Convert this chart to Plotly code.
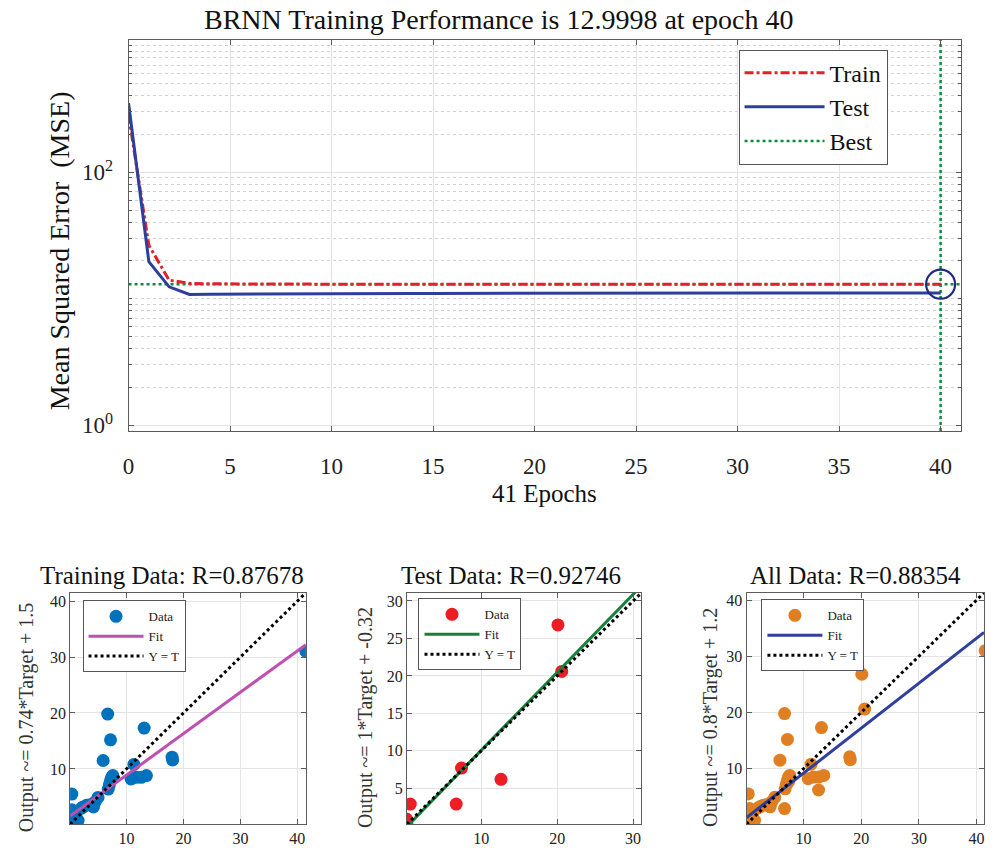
import plotly.graph_objects as go

FONT = "Liberation Serif"
W, H = 995, 860

# ---- performance curve (MSE per epoch) ----
epochs = list(range(41))
train_perf = [284, 26.4, 14.0, 13.2, 13.1, 13.06, 13.04, 13.03, 13.02, 13.02,
              13.01, 13.01, 13.01, 13.01, 13.0, 13.0, 13.0, 13.0, 13.0, 13.0,
              13.0, 13.0, 13.0, 13.0, 13.0, 13.0, 13.0, 13.0, 13.0, 13.0,
              13.0, 13.0, 13.0, 13.0, 13.0, 13.0, 13.0, 13.0, 13.0, 13.0, 12.9998]
test_perf = [350, 19.6, 12.4, 10.8, 10.85, 10.88, 10.9, 10.92, 10.93, 10.95,
             10.96, 10.97, 10.98, 10.99, 11.0, 11.0, 11.01, 11.02, 11.02, 11.03,
             11.03, 11.04, 11.04, 11.05, 11.05, 11.06, 11.06, 11.07, 11.07, 11.07,
             11.08, 11.08, 11.08, 11.09, 11.09, 11.09, 11.1, 11.1, 11.1, 11.1, 11.1]
best_epoch = 40
best_perf = 12.9998

# ---- regression data (target, output) ----
train_target = [41.5, 6.7, 7.2, 5.9, 13.1, 18.0, 18.1, 11.3, 7.6, 7.4, 7.2, 6.8, 7.0,
                10.8, 11.7, 12.6, 13.5, 0.4, 5.0, 4.5, 4.2, 3.6, 3.0, 2.1, 1.3,
                0.4, 0.6, 0.2, 1.5, 0.9, 2.4]
train_output = [31.0, 19.8, 15.2, 11.5, 17.3, 12.1, 11.6, 10.8, 8.8, 8.5, 7.9, 6.4, 7.2,
                8.2, 8.5, 8.5, 8.8, 5.5, 4.9, 4.1, 3.2, 3.6, 3.5, 3.0, 2.4,
                2.7, 1.1, 0.3, 0.8, 1.8, 3.2]
test_target = [20.1, 20.6, 7.4, 12.6, 6.7, 0.65, 0.15, 0.2]
test_output = [26.8, 20.6, 7.7, 6.2, 2.9, 2.9, 0.9, 0.3]
all_target = train_target + test_target
all_output = train_output + test_output

fit_train = (0.74, 1.5)
fit_test = (1.04, -0.32)
fit_all = (0.8, 1.2)

r_train, r_test, r_all = "0.87678", "0.92746", "0.88354"


def px_x(p):
    return p / W


def px_y(p):
    return 1 - p / H


axis_style = dict(showline=True, linecolor="#5c5c5c", linewidth=1, mirror="allticks",
                  ticks="inside", ticklen=5, tickcolor="#5c5c5c", showgrid=True,
                  gridcolor="#e4e4e4", zeroline=False,
                  tickfont=dict(family=FONT, size=16, color="#222"))

fig = go.Figure()

# ---- top performance plot ----
perf_xlim = [0, 41]
perf_ylog = [-0.046, 3.045]

fig.add_trace(go.Scatter(x=[perf_xlim[0], perf_xlim[1], None, best_epoch, best_epoch],
                         y=[best_perf, best_perf, None, 10 ** perf_ylog[0], 10 ** perf_ylog[1]],
                         mode="lines", name="Best", legendrank=3,
                         line=dict(color="#0f8a3c", width=2.5, dash="dot")))
fig.add_trace(go.Scatter(x=epochs, y=train_perf, mode="lines", name="Train", legendrank=1,
                         line=dict(color="#e3202a", width=3, dash="dashdot")))
fig.add_trace(go.Scatter(x=epochs, y=test_perf, mode="lines", name="Test", legendrank=2,
                         line=dict(color="#2d3f9c", width=3)))
fig.add_trace(go.Scatter(x=[best_epoch], y=[best_perf], mode="markers", showlegend=False,
                         marker=dict(symbol="circle-open", size=29, color="#1f2a80",
                                     line=dict(color="#1f2a80", width=2.2))))

minor_vals = [m * 10 ** k for k in range(0, 4) for m in range(2, 10)] + [10, 1000]

top_x = dict(axis_style, domain=[px_x(123.3), px_x(960.7)], anchor="y", range=perf_xlim,
             dtick=5, tick0=0, ticklabelstandoff=14,
             tickfont=dict(family=FONT, size=23, color="#222"))
top_y = dict(axis_style, domain=[px_y(434), px_y(39.3)], anchor="x", type="log",
             range=perf_ylog, tickvals=[1, 100],
             ticktext=["10<sup>0</sup>", "10<sup>2</sup>"], ticklabelstandoff=10,
             tickfont=dict(family=FONT, size=23, color="#222"),
             minor=dict(tickvals=minor_vals, showgrid=True, griddash="dot",
                        gridcolor="#d2d2d2", ticks="inside", ticklen=3, tickcolor="#5c5c5c"))
fig.update_layout(xaxis=top_x, yaxis=top_y)

# ---- regression subplots ----
panels = [
    dict(n=2, tgt=train_target, out=train_output, fit=fit_train, lim=[0.1, 41.5], dt=10,
         mc="#0072bd", fc="#bf4fb0", box=(64.5, 301.7), lbox=(77, 605),
         title="Training Data: R=" + r_train, tx=167, ytitle="Output ~= 0.74*Target + 1.5", yx=20),
    dict(n=3, tgt=test_target, out=test_output, fit=fit_test, lim=[0.2, 31.1], dt=5,
         mc="#ee1c25", fc="#17803a", box=(403.3, 639.3), lbox=(415, 603),
         title="Test Data: R=" + r_test, tx=508, ytitle="Output ~= 1*Target + -0.32", yx=361),
    dict(n=4, tgt=all_target, out=all_output, fit=fit_all, lim=[0.1, 41.3], dt=10,
         mc="#e07f22", fc="#2e3f9e", box=(745, 984), lbox=(760, 604),
         title="All Data: R=" + r_all, tx=855, ytitle="Output ~= 0.8*Target + 1.2", yx=709),
]

annotations = [
    dict(text="BRNN Training Performance is 12.9998 at epoch 40", x=px_x(496), y=px_y(19),
         font=dict(size=28)),
    dict(text="41 Epochs", x=px_x(542), y=px_y(497), font=dict(size=25)),
    dict(text="Mean Squared Error\u00a0\u00a0(MSE)", x=px_x(54), y=px_y(252), textangle=-90,
         font=dict(size=28)),
]

for p in panels:
    n = p["n"]
    xa, ya = "x%d" % n, "y%d" % n
    lg = "legend%d" % n
    lo, hi = p["lim"]
    m, b = p["fit"]
    fig.add_trace(go.Scatter(x=p["tgt"], y=p["out"], mode="markers", name="Data", legend=lg,
                             xaxis=xa, yaxis=ya,
                             marker=dict(color=p["mc"], size=13, line=dict(width=0))))
    fig.add_trace(go.Scatter(x=[lo, hi], y=[m * lo + b, m * hi + b], mode="lines", name="Fit",
                             legend=lg, xaxis=xa, yaxis=ya,
                             line=dict(color=p["fc"], width=3)))
    fig.add_trace(go.Scatter(x=[lo, hi], y=[lo, hi], mode="lines", name="Y = T", legend=lg,
                             xaxis=xa, yaxis=ya, line=dict(color="black", width=3, dash="dot")))
    fig.layout["xaxis%d" % n] = dict(axis_style, domain=[px_x(p["box"][0]), px_x(p["box"][1])],
                                     anchor=ya, range=p["lim"], dtick=10, tick0=0)
    fig.layout["yaxis%d" % n] = dict(axis_style, domain=[px_y(831), px_y(597.3)],
                                     anchor=xa, range=p["lim"], dtick=p["dt"], tick0=0)
    fig.layout[lg] = dict(x=px_x(p["lbox"][0]), y=px_y(p["lbox"][1]), xanchor="left",
                          yanchor="top", bgcolor="white", bordercolor="#555", borderwidth=1,
                          font=dict(family=FONT, size=13, color="#222"), itemwidth=55,
                          tracegroupgap=0)
    annotations.append(dict(text=p["title"], x=px_x(p["tx"]), y=px_y(580), font=dict(size=25)))
    annotations.append(dict(text=p["ytitle"], x=px_x(p["yx"]), y=px_y(723), textangle=-90,
                            font=dict(size=20, color="#333")))

for a in annotations:
    a.update(xref="paper", yref="paper", showarrow=False, xanchor="center", yanchor="middle")
    a["font"] = dict(family=FONT, color=a["font"].get("color", "#111"), size=a["font"]["size"])

fig.update_layout(
    width=W, height=H,
    margin=dict(l=0, r=0, t=0, b=0),
    paper_bgcolor="white", plot_bgcolor="white",
    annotations=annotations,
    legend=dict(x=px_x(737), y=px_y(49), xanchor="left", yanchor="top", bgcolor="white",
                bordercolor="#555", borderwidth=1, itemwidth=80, entrywidth=175,
                font=dict(family=FONT, size=24, color="#111")),
)

# the page body has a default 8px margin; drop it so the figure sits at (0, 0)
fig.write_html("out.html", config={"displayModeBar": False},
               post_script="document.body.style.margin='0px';")
